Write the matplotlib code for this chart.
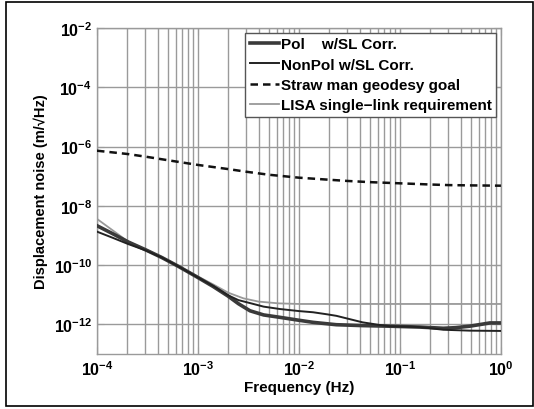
import matplotlib
matplotlib.use('Agg')
import matplotlib.pyplot as plt
import numpy as np
from matplotlib.patches import Rectangle

# values (log10 of frequency / displacement noise)
pol_logf = [-4.0, -3.85, -3.69, -3.52, -3.36, -3.2, -3.03, -2.85, -2.70, -2.6, -2.485,
            -2.35, -2.19, -2.0, -1.86, -1.63, -1.37, -1.10, -0.8, -0.57, -0.45, -0.31,
            -0.2, -0.11, 0.0]
pol_logy = [-8.67, -8.93, -9.22, -9.48, -9.74, -10.03, -10.36, -10.72, -11.05, -11.3, -11.54,
            -11.68, -11.76, -11.86, -11.93, -12.01, -12.04, -12.06, -12.09, -12.13, -12.11, -12.06,
            -12.0, -11.95, -11.95]

nonpol_logf = [-4.0, -3.85, -3.69, -3.52, -3.36, -3.2, -3.03, -2.85, -2.70, -2.6, -2.485,
               -2.35, -2.19, -2.0, -1.86, -1.72, -1.63, -1.5, -1.37, -1.2, -1.10, -0.8,
               -0.57, -0.31, 0.0]
nonpol_logy = [-8.87, -9.07, -9.29, -9.5, -9.74, -10.03, -10.36, -10.7, -11.02, -11.18, -11.28,
               -11.4, -11.48, -11.55, -11.59, -11.66, -11.71, -11.82, -11.93, -12.02, -12.06, -12.09,
               -12.18, -12.21, -12.22]

goal_logf = [-4.0, -3.7, -3.52, -3.3, -3.0, -2.7, -2.52, -2.3, -2.0, -1.7, -1.52, -1.3,
             -1.0, -0.7, -0.52, -0.3, 0.0]
goal_logy = [-6.14, -6.25, -6.34, -6.46, -6.62, -6.76, -6.85, -6.95, -7.05, -7.12, -7.16, -7.2,
             -7.24, -7.28, -7.30, -7.31, -7.32]

lisa_logf = [-4.0, -3.69, -3.36, -3.03, -2.85, -2.70, -2.55, -2.4, -2.2, -2.0, 0.0]
lisa_logy = [-8.44, -9.21, -9.72, -10.33, -10.65, -10.93, -11.12, -11.23, -11.29, -11.31, -11.31]

labels = ['Pol    w/SL Corr.', 'NonPol w/SL Corr.',
          'Straw man geodesy goal', 'LISA single\u2212link requirement']

plt.rcParams['font.family'] = ['Liberation Sans', 'DejaVu Sans']
plt.rcParams['font.weight'] = 'bold'
plt.rcParams['font.size'] = 10

fig = plt.figure(figsize=(5.34, 4.10), dpi=100)
ax = fig.add_axes([0.1816, 0.134, 0.7565, 0.7953])

grid_c = '#9a9a9a'
ax.plot(10 ** np.array(pol_logf), 10 ** np.array(pol_logy), color='#3a3a3a', lw=2.6, label=labels[0], zorder=4)
ax.plot(10 ** np.array(nonpol_logf), 10 ** np.array(nonpol_logy), color='#222222', lw=1.4, label=labels[1], zorder=4)
ax.plot(10 ** np.array(goal_logf), 10 ** np.array(goal_logy), color='#111111', lw=1.8, ls=(0, (3, 2)), label=labels[2], zorder=4)
ax.plot(10 ** np.array(lisa_logf), 10 ** np.array(lisa_logy), color='#999999', lw=1.3, label=labels[3], zorder=3)

ax.set_xscale('log')
ax.set_yscale('log')
ax.set_xlim(1e-4, 1)
ax.set_ylim(1e-13, 1e-2)
ax.set_yticks([10.0 ** e for e in range(-12, -1, 2)])
ax.set_xticks([10.0 ** e for e in range(-4, 1)])
ax.yaxis.set_minor_locator(matplotlib.ticker.NullLocator())
ax.xaxis.set_minor_locator(matplotlib.ticker.LogLocator(base=10, subs=np.arange(2, 10)))
ax.xaxis.set_minor_formatter(matplotlib.ticker.NullFormatter())

ax.grid(True, which='major', color=grid_c, lw=1.0)
ax.grid(True, which='minor', axis='x', color=grid_c, lw=1.0)
ax.tick_params(which='both', direction='in', top=True, right=True, color=grid_c, labelsize=11.5)
ax.tick_params(which='major', length=5)
ax.tick_params(which='minor', length=3)
for s in ax.spines.values():
    s.set_color(grid_c)
    s.set_linewidth(1.0)

ax.set_xlabel('Frequency (Hz)', fontsize=11, fontweight='bold', labelpad=2)
ax.set_ylabel('Displacement noise (m/\u221aHz)', fontsize=10.5, fontweight='bold', labelpad=4)

leg = ax.legend(loc='upper right', fontsize=11, handlelength=1.9, handletextpad=0.15,
                borderpad=0.3, labelspacing=0.42, borderaxespad=0.3, fancybox=False,
                framealpha=1.0, edgecolor='#555555')
leg.get_frame().set_linewidth(1.0)

fig.patches.append(Rectangle((0.011, 0.007), 0.987, 0.985, transform=fig.transFigure,
                             fill=False, edgecolor='black', lw=1.2))

plt.savefig('out.png', dpi=100)
plt.close('all')
